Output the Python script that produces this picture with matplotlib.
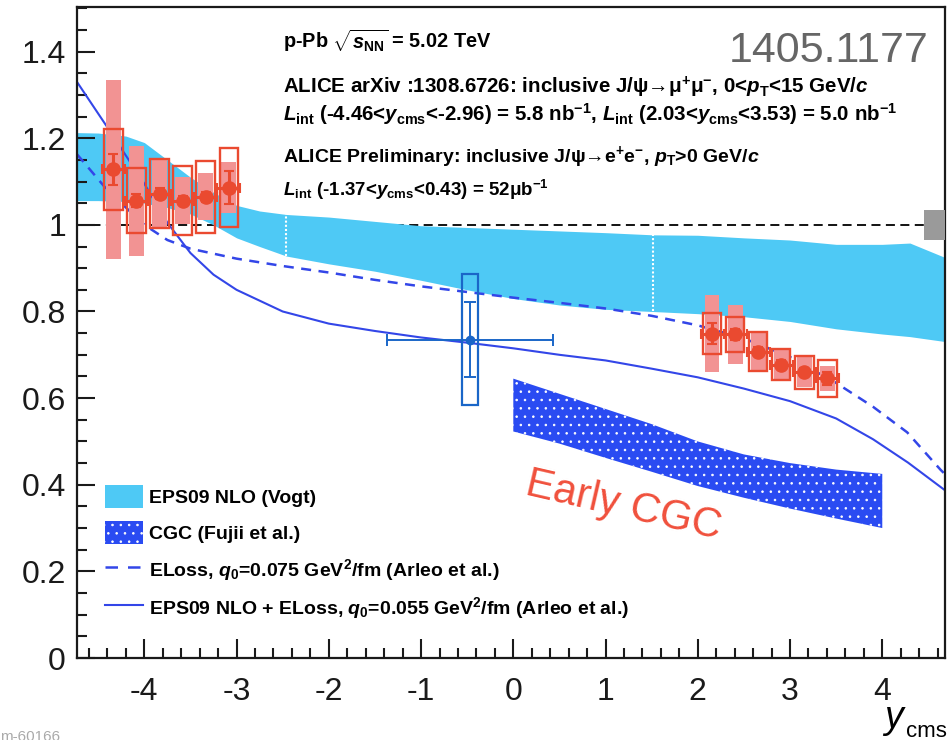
import numpy as np
import matplotlib
matplotlib.use("Agg")
import matplotlib.pyplot as plt
from matplotlib import font_manager
from matplotlib.patches import Rectangle, Patch
from matplotlib.lines import Line2D
from matplotlib.ticker import MultipleLocator

plt.rcParams['font.family'] = ['Liberation Sans', 'DejaVu Sans']
plt.rcParams['mathtext.fontset'] = 'custom'
plt.rcParams['mathtext.rm'] = 'Liberation Sans:bold'
plt.rcParams['mathtext.it'] = 'Liberation Sans:italic:bold'
plt.rcParams['mathtext.bf'] = 'Liberation Sans:bold'
plt.rcParams['hatch.color'] = 'white'
plt.rcParams['hatch.linewidth'] = 0.6

names = {f.name for f in font_manager.fontManager.ttflist}
narrow = 'Liberation Sans Narrow' in names

# EPS09 NLO band (Vogt)
eps_y = [-4.73, -4.5, -4.2, -4.0, -3.75, -3.5, -3.25, -3.0, -2.75, -2.46, -2.0, -1.5,
         -1.0, -0.5, 0.0, 0.5, 1.0, 1.51, 2.0, 2.5, 3.0, 3.5, 4.0, 4.3, 4.7]
eps_hi = [1.213, 1.212, 1.205, 1.19, 1.15, 1.11, 1.075, 1.045, 1.032, 1.024, 1.018, 1.008,
          0.998, 0.994, 0.99, 0.986, 0.982, 0.977, 0.976, 0.97, 0.965, 0.955, 0.955, 0.958, 0.923]
eps_lo = [1.056, 1.056, 1.054, 1.05, 1.04, 1.025, 1.0, 0.97, 0.95, 0.928, 0.91, 0.893,
          0.872, 0.85, 0.83, 0.815, 0.805, 0.80, 0.795, 0.788, 0.777, 0.76, 0.748, 0.742, 0.730]
eps_gaps = [-2.46, 1.51]

# CGC (Fujii et al.)
cgc_y = [0.0, 0.5, 1.0, 1.5, 2.0, 2.5, 3.0, 3.5, 4.0]
cgc_hi = [0.645, 0.61, 0.575, 0.54, 0.50, 0.47, 0.45, 0.435, 0.425]
cgc_lo = [0.523, 0.495, 0.462, 0.43, 0.397, 0.37, 0.345, 0.322, 0.30]

# ELoss q0=0.075 (Arleo et al.)
eloss_y = [-4.73, -4.4, -4.0, -3.75, -3.5, -3.0, -2.5, -2.0, -1.5, -1.0, -0.5, 0.0,
           0.5, 1.0, 1.5, 2.0, 2.5, 3.0, 3.5, 3.9, 4.27, 4.63, 4.7]
eloss_r = [1.163, 1.08, 1.0, 0.965, 0.945, 0.922, 0.905, 0.89, 0.873, 0.858, 0.845, 0.832,
           0.82, 0.807, 0.79, 0.768, 0.738, 0.695, 0.635, 0.58, 0.521, 0.435, 0.42]

# EPS09 NLO + ELoss q0=0.055 (Arleo et al.)
epsel_y = [-4.73, -4.4, -4.0, -3.75, -3.5, -3.25, -3.0, -2.5, -2.0, -1.5, -1.0, -0.5,
           0.0, 0.5, 1.0, 1.5, 2.0, 2.5, 3.0, 3.5, 3.9, 4.28, 4.7]
epsel_r = [1.33, 1.225, 1.095, 1.005, 0.935, 0.885, 0.85, 0.80, 0.772, 0.755, 0.74, 0.728,
           0.715, 0.70, 0.687, 0.668, 0.648, 0.622, 0.593, 0.553, 0.505, 0.451, 0.384]

# ALICE J/psi -> mu+mu-
mu_y = [-4.335, -4.085, -3.835, -3.585, -3.335, -3.085,
        2.155, 2.405, 2.655, 2.905, 3.155, 3.405]
mu_r = [1.128, 1.056, 1.072, 1.056, 1.065, 1.086,
        0.749, 0.747, 0.707, 0.677, 0.660, 0.646]
mu_stat = [0.036, 0.015, 0.012, 0.010, 0.012, 0.038,
           0.025, 0.012, 0.010, 0.010, 0.010, 0.015]
mu_sys_unc = [0.094, 0.075, 0.080, 0.079, 0.083, 0.092,
              0.047, 0.041, 0.045, 0.036, 0.038, 0.043]
mu_sys_cor = [0.207, 0.127, 0.080, 0.055, 0.054, 0.058,
              0.089, 0.068, 0.045, 0.036, 0.035, 0.029]
mu_bin = 0.125

# ALICE preliminary J/psi -> e+e-
ee_y = [-0.47]
ee_r = [0.735]
ee_dy = [0.9]
ee_stat = [0.086]
ee_sys = [0.152]

norm_unc = 0.035

x_ticks = [-4, -3, -2, -1, 0, 1, 2, 3, 4]
x_labels = ['-4', '-3', '-2', '-1', '0', '1', '2', '3', '4']
y_ticks = [0, 0.2, 0.4, 0.6, 0.8, 1.0, 1.2, 1.4]
y_labels = ['0', '0.2', '0.4', '0.6', '0.8', '1', '1.2', '1.4']

eps_c = '#4ec9f5'
cgc_c = '#2a4bf2'
line_c = '#3346e8'
red = '#ea4a30'
pink = '#f29393'
blue = '#1a66c8'

fig = plt.figure(figsize=(9.47, 7.40), dpi=100)
ax = fig.add_axes([77 / 947, 82 / 740, 868 / 947, 651 / 740])
ax.set_xlim(-4.73, 4.68)
ax.set_ylim(0, 1.503)

ax.axhline(1.0, color='black', ls=(0, (5, 3)), lw=1.3, zorder=0.5)
ax.fill_between(eps_y, eps_lo, eps_hi, color=eps_c, lw=0, zorder=1)
ax.vlines(eps_gaps, np.interp(eps_gaps, eps_y, eps_lo), np.interp(eps_gaps, eps_y, eps_hi),
          colors='white', linestyles=(0, (1, 1)), lw=1.5, zorder=1.1)
ax.fill_between(cgc_y, cgc_lo, cgc_hi, facecolor=cgc_c, edgecolor='white', hatch='..',
                lw=0, zorder=1.2)
ax.plot(eloss_y, eloss_r, color=line_c, ls=(0, (4, 3)), lw=1.8, zorder=2)
ax.plot(epsel_y, epsel_r, color=line_c, lw=1.5, zorder=2)

ax.add_patch(Rectangle((4.45, 1 - norm_unc), 0.4, 2 * norm_unc, facecolor='#9a9a9a',
                       edgecolor='none', zorder=3))

for y, r, sc, su in zip(mu_y, mu_r, mu_sys_cor, mu_sys_unc):
    ax.add_patch(Rectangle((y - 0.08, r - sc), 0.16, 2 * sc, facecolor=pink,
                           edgecolor='none', zorder=3))
    ax.add_patch(Rectangle((y - 0.1, r - su), 0.2, 2 * su, facecolor='none',
                           edgecolor=red, lw=1.7, zorder=3.1))
ax.errorbar(mu_y, mu_r, xerr=mu_bin, yerr=mu_stat, fmt='o', color=red, ms=9.5,
            elinewidth=2.2, capsize=3.5, capthick=1.5, zorder=4)

for y, r, s in zip(ee_y, ee_r, ee_sys):
    ax.add_patch(Rectangle((y - 0.087, r - s), 0.174, 2 * s, facecolor='none',
                           edgecolor=blue, lw=1.6, zorder=3.1))
ax.errorbar(ee_y, ee_r, xerr=ee_dy, yerr=ee_stat, fmt='o', color=blue, ms=6,
            elinewidth=1.4, capsize=4, capthick=1.4, zorder=4)

ax.set_xticks(x_ticks, x_labels)
ax.set_yticks(y_ticks, y_labels)
ax.xaxis.set_minor_locator(MultipleLocator(0.2))
ax.yaxis.set_minor_locator(MultipleLocator(0.05))
ax.tick_params(which='both', direction='in', top=False, right=False, width=1.5,
               colors='#1a1a1a', labelsize=23)
ax.tick_params(axis='y', which='major', length=13, pad=8)
ax.tick_params(axis='y', which='minor', length=7)
ax.tick_params(axis='x', which='major', length=14, pad=14)
ax.tick_params(axis='x', which='minor', length=7)
for s in ax.spines.values():
    s.set_linewidth(1.6)
    s.set_color('#1a1a1a')

fig.text(884 / 947, 12 / 740, 'y', fontsize=27, style='italic', ha='left', va='baseline')
fig.text(906 / 947, 3 / 740, 'cms', fontsize=16, ha='left', va='baseline')

bold = dict(fontweight='bold', ha='left', va='baseline')
tx = 283 / 947
fig.text(tx, 1 - 48 / 740, r'p-Pb $\sqrt{s_{\rm NN}}$ = 5.02 TeV', fontsize=14.3, **bold)
fig.text(tx, 1 - 93 / 740,
         r'ALICE arXiv :1308.6726: inclusive J/ψ→μ$^{+}$μ$^{-}$, 0<$p_{\rm T}$<15 GeV/$c$',
         fontsize=14.8, **bold)
fig.text(tx, 1 - 121 / 740,
         r'$L_{\rm int}$ (-4.46<$y_{\rm cms}$<-2.96) = 5.8 nb$^{-1}$, '
         r'$L_{\rm int}$ (2.03<$y_{\rm cms}$<3.53) = 5.0 nb$^{-1}$', fontsize=14.8, **bold)
fig.text(tx, 1 - 162 / 740,
         r'ALICE Preliminary: inclusive J/ψ→e$^{+}$e$^{-}$, $p_{\rm T}$>0 GeV/$c$',
         fontsize=14, **bold)
fig.text(tx, 1 - 196 / 740, r'$L_{\rm int}$ (-1.37<$y_{\rm cms}$<0.43) = 52μb$^{-1}$',
         fontsize=13.5, **bold)

if narrow:
    fig.text(928 / 947, 1 - 62 / 740, '1405.1177', fontsize=36, color='#666666',
             family='Liberation Sans Narrow', ha='right', va='baseline')
else:
    fig.text(928 / 947, 1 - 62 / 740, '1405.1177', fontsize=31, color='#666666',
             ha='right', va='baseline')

ax.text(1.2, 0.35, 'Early CGC', fontsize=30, color='#f0503c', rotation=-13,
        ha='center', va='center', rotation_mode='anchor')

fig.text(0.0, -0.006, 'm-60166', fontsize=11, color='#aaaaaa', ha='left', va='bottom')

handles = [
    Patch(facecolor=eps_c, edgecolor='none'),
    Patch(facecolor=cgc_c, edgecolor='white', hatch='..', lw=0),
    Line2D([], [], color=line_c, ls=(0, (5, 4)), lw=1.8),
    Line2D([], [], color=line_c, lw=1.5),
]
labels = [
    'EPS09 NLO (Vogt)',
    'CGC (Fujii et al.)',
    r'ELoss, $q_{0}$=0.075 GeV$^{2}$/fm (Arleo et al.)',
    r'EPS09 NLO + ELoss, $q_{0}$=0.055 GeV$^{2}$/fm (Arleo et al.)',
]
leg = ax.legend(handles, labels, loc='upper left', bbox_to_anchor=(0.032, 0.266),
                frameon=False, borderpad=0, borderaxespad=0, handlelength=1.95,
                handleheight=1.45, handletextpad=0.3, labelspacing=0.66,
                prop=dict(family='Liberation Sans', weight='bold', size=14))

fig.savefig('out.png', dpi=100)
